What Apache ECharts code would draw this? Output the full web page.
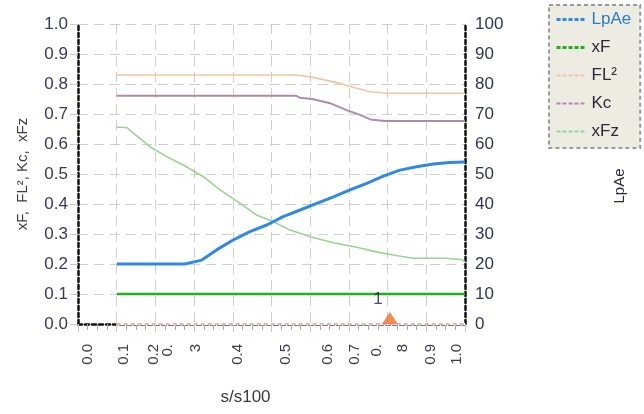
<!DOCTYPE html>
<html><head><meta charset="utf-8">
<script src="https://cdn.jsdelivr.net/npm/echarts@6/dist/echarts.min.js"></script>
<style>html,body{margin:0;padding:0;background:#fff}#c{width:644px;height:414px}</style>
</head><body><div id="c"></div>
<script>
// ---------- data ----------
const seriesNames = ['LpAe', 'xF', 'FL²', 'Kc', 'xFz'];
const xTickLabels = ['0.0','0.1','0.2','0.\n3','0.4','0.5','0.6','0.7','0.\n8','0.9','1.0'];
const leftTickLabels = ['0.0','0.1','0.2','0.3','0.4','0.5','0.6','0.7','0.8','0.9','1.0'];
const rightTickLabels = ['0','10','20','30','40','50','60','70','80','90','100'];
const lpAeData = [[0.1,20],[0.276,20],[0.32,21.3],[0.358,24.7],[0.401,28],[0.444,30.8],[0.488,33],[0.53,35.8],[0.574,38],[0.617,40.2],[0.66,42.4],[0.703,44.7],[0.746,46.9],[0.789,49.3],[0.832,51.3],[0.875,52.4],[0.918,53.3],[0.96,53.8],[1.0,54]];
const xFData = [[0.1,0.1],[1.0,0.1]];
const fl2Data = [[0.1,0.83],[0.565,0.83],[0.608,0.822],[0.677,0.802],[0.72,0.786],[0.755,0.774],[0.798,0.769],[1.0,0.769]];
const kcData = [[0.1,0.761],[0.563,0.761],[0.574,0.754],[0.608,0.749],[0.651,0.736],[0.694,0.713],[0.729,0.697],[0.755,0.682],[0.793,0.677],[1.0,0.677]];
const xFzData = [[0.1,0.656],[0.126,0.655],[0.143,0.636],[0.186,0.591],[0.229,0.558],[0.272,0.53],[0.324,0.491],[0.367,0.447],[0.419,0.402],[0.462,0.363],[0.505,0.341],[0.548,0.313],[0.6,0.291],[0.66,0.271],[0.72,0.256],[0.78,0.238],[0.815,0.23],[0.866,0.219],[0.95,0.219],[0.99,0.215],[1.0,0.208]];
const baselineData = [[0.1,0],[1.0,0]];
const markerData = [[0.806, 0, '1']];

// ---------- layout / style ----------
const FONT = 'Liberation Sans, Arial, sans-serif';
const colors = {LpAe:'#2e8ae4', xF:'#22b022', 'FL²':'#f4c4a2', Kc:'#b08aaa', xFz:'#98d690'};
const xLabelShift = [10, 7, -2, -12, 5, 14, 18, 6, 2, 5, -8]; // screen px shift of rotated labels
const xLabelLineH = [16,16,16,28,16,16,16,16,26,16,16];
const rich = {};
xTickLabels.forEach((t, i) => {
  const s = xLabelShift[i];
  rich['s' + i] = {
    fontSize: 15, fontFamily: FONT, color: '#3a3a48', lineHeight: xLabelLineH[i],
    padding: s >= 0 ? [2 * s, 0, 0, 0] : [0, 0, -2 * s, 0]
  };
});
const gridLine = {show: true, lineStyle: {color: '#cfcfcf', type: [10, 6], width: 1}};
const axisLineStyle = {color: '#111', width: 2.5, type: [4, 3]};

const chart = echarts.init(document.getElementById('c'), null, {renderer: 'canvas'});
const option = {
  animation: false,
  backgroundColor: '#fff',
  grid: {left: 78, right: 179, top: 24, bottom: 90, containLabel: false},
  legend: {
    orient: 'vertical', left: 549, top: 5,
    backgroundColor: '#edece3', borderColor: '#9a9a9a', borderType: [4, 3], borderWidth: 2,
    padding: [6, 9, 8, 6], itemGap: 11, itemWidth: 30, itemHeight: 16,
    textStyle: {fontSize: 17, fontFamily: FONT, color: '#2a2a3a'},
    data: seriesNames.map((n, i) => ({
      name: n,
      itemStyle: {opacity: 0},
      lineStyle: {color: colors[n], width: i < 2 ? 3 : 2, type: [4, 2], opacity: 1},
      textStyle: {color: i === 0 ? '#2e7cc4' : '#2a2a3a'}
    }))
  },
  xAxis: {
    type: 'value', min: 0, max: 1, interval: 0.1,
    name: 's/s100', nameLocation: 'middle', nameGap: 65,
    nameTextStyle: {fontSize: 17, fontFamily: FONT, color: '#3a3a48', padding: [0, 52, 0, 0]},
    axisLine: {show: true, onZero: false, lineStyle: axisLineStyle},
    axisTick: {show: true, length: 8, lineStyle: {color: '#c8c8c8'}},
    minorTick: {show: true, splitNumber: 4, length: 6, lineStyle: {color: '#a8a8a8'}},
    splitLine: gridLine,
    axisLabel: {
      rotate: 90, margin: 20,
      formatter: (v) => { const i = Math.round(v * 10); return '{s' + i + '|' + xTickLabels[i] + '}'; },
      rich: rich
    }
  },
  yAxis: [{
    type: 'value', min: 0, max: 1, interval: 0.1, position: 'left',
    name: 'xF,  FL², Kc,  xFz', nameLocation: 'middle', nameGap: 48,
    nameTextStyle: {fontSize: 15, fontFamily: FONT, color: '#3a3a48'},
    axisLine: {show: true, onZero: false, lineStyle: axisLineStyle},
    axisTick: {show: true, length: 8, lineStyle: {color: '#c8c8c8'}},
    splitLine: gridLine,
    axisLabel: {margin: 10, fontSize: 17, fontFamily: FONT, color: '#3a3a58',
      formatter: (v) => leftTickLabels[Math.round(v * 10)]}
  }, {
    type: 'value', min: 0, max: 100, interval: 10, position: 'right',
    name: 'LpAe', nameLocation: 'middle', nameGap: 147,
    nameTextStyle: {fontSize: 15, fontFamily: FONT, color: '#2a2a3a', padding: [0, 24, 0, 0]},
    axisLine: {show: true, onZero: false, lineStyle: axisLineStyle},
    axisTick: {show: false},
    splitLine: {show: false},
    axisLabel: {margin: 10, fontSize: 17, fontFamily: FONT, color: '#33335a',
      formatter: (v) => rightTickLabels[Math.round(v / 10)]}
  }],
  series: [
    {name: 'baselineUnder', type: 'line', data: baselineData, symbol: 'none', silent: true, clip: false,
      lineStyle: {color: '#ffffff', width: 2.5}, z: 3},
    {name: 'baseline', type: 'line', data: baselineData, symbol: 'none', silent: true, clip: false,
      lineStyle: {color: '#e89a9a', width: 1.5, type: [4, 3]}, z: 3},
    {name: 'FL²', type: 'line', data: fl2Data, symbol: 'none', lineStyle: {color: colors['FL²'], width: 1.6}, itemStyle: {color: colors['FL²']}},
    {name: 'Kc', type: 'line', data: kcData, symbol: 'none', lineStyle: {color: colors.Kc, width: 2}, itemStyle: {color: colors.Kc}},
    {name: 'xFz', type: 'line', data: xFzData, symbol: 'none', lineStyle: {color: colors.xFz, width: 1.6}, itemStyle: {color: colors.xFz}},
    {name: 'xF', type: 'line', data: xFData, symbol: 'none', lineStyle: {color: colors.xF, width: 2.5}, itemStyle: {color: colors.xF}},
    {name: 'LpAe', type: 'line', yAxisIndex: 1, data: lpAeData, symbol: 'none', lineStyle: {color: colors.LpAe, width: 3}, itemStyle: {color: colors.LpAe}},
    {name: 'marker', type: 'scatter', data: markerData, symbol: 'triangle', symbolSize: [16, 12], symbolOffset: [0, -6],
      itemStyle: {color: '#f26e2a'}, z: 5, clip: false,
      label: {show: true, position: 'top', distance: 4, offset: [-12, 0], fontSize: 17, fontFamily: FONT, color: '#1e1e30',
        formatter: (p) => p.data[2]}}
  ]
};
chart.setOption(option);
</script>
</body></html>
